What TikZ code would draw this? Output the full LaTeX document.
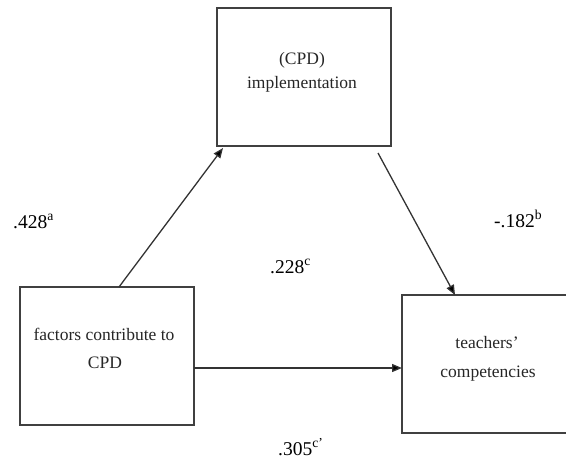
\documentclass[tikz,border=0pt]{standalone}
\usepackage{fontspec}
\setmainfont{Liberation Serif}
\usetikzlibrary{arrows.meta,calc}
\begin{document}
\begin{tikzpicture}[x=1pt,y=-1pt,
  box/.style={draw=black!75,line width=1.5pt,minimum width=174pt,minimum height=138pt,inner sep=0pt,outer sep=0pt},
  boxtext/.style={font=\fontsize{17.5}{20}\selectfont,text=black!85,inner sep=0pt,anchor=base},
  coef/.style={font=\fontsize{19.5}{22}\selectfont,text=black,inner sep=0pt,anchor=base west},
  conn/.style={draw=black!80,line width=1.3pt,-{Triangle[length=10pt,width=8pt,fill=black]}}]
\useasboundingbox (0,0) rectangle (566,461);
\clip (0,0) rectangle (566,461);
\node[box] (med) at (304,77) {};
\node[box] (x) at (107,356) {};
\node[box] (y) at (489,364) {};
\node[boxtext] (medA) at (302,64) {(CPD)};
\node[boxtext] (medB) at (302,88) {implementation};
\node[boxtext] (xA) at (104,340) {factors contribute to};
\node[boxtext] (xB) at (105,368) {CPD};
\node[boxtext] (yA) at (487,348) {teachers’};
\node[boxtext] (yB) at (488,377) {competencies};
\draw[conn] ($(x.north west)!0.569!(x.north east)$) -- ($(med.south west)+(6,2)$);
\draw[conn] ($(med.south west)+(161,7)$) -- ($(y.north west)+(53,0)$);
\draw[conn] ($(x.east)+(0,12)$) -- ($(y.west)+(0,4)$);
\node[coef] (a) at (13,228) {.428\textsuperscript{a}};
\node[coef] (b) at (494,227) {-.182\textsuperscript{b}};
\node[coef] (c) at (270,273) {.228\textsuperscript{c}};
\node[coef] (cp) at (278,455) {.305\textsuperscript{c’}};
\end{tikzpicture}
\end{document}
